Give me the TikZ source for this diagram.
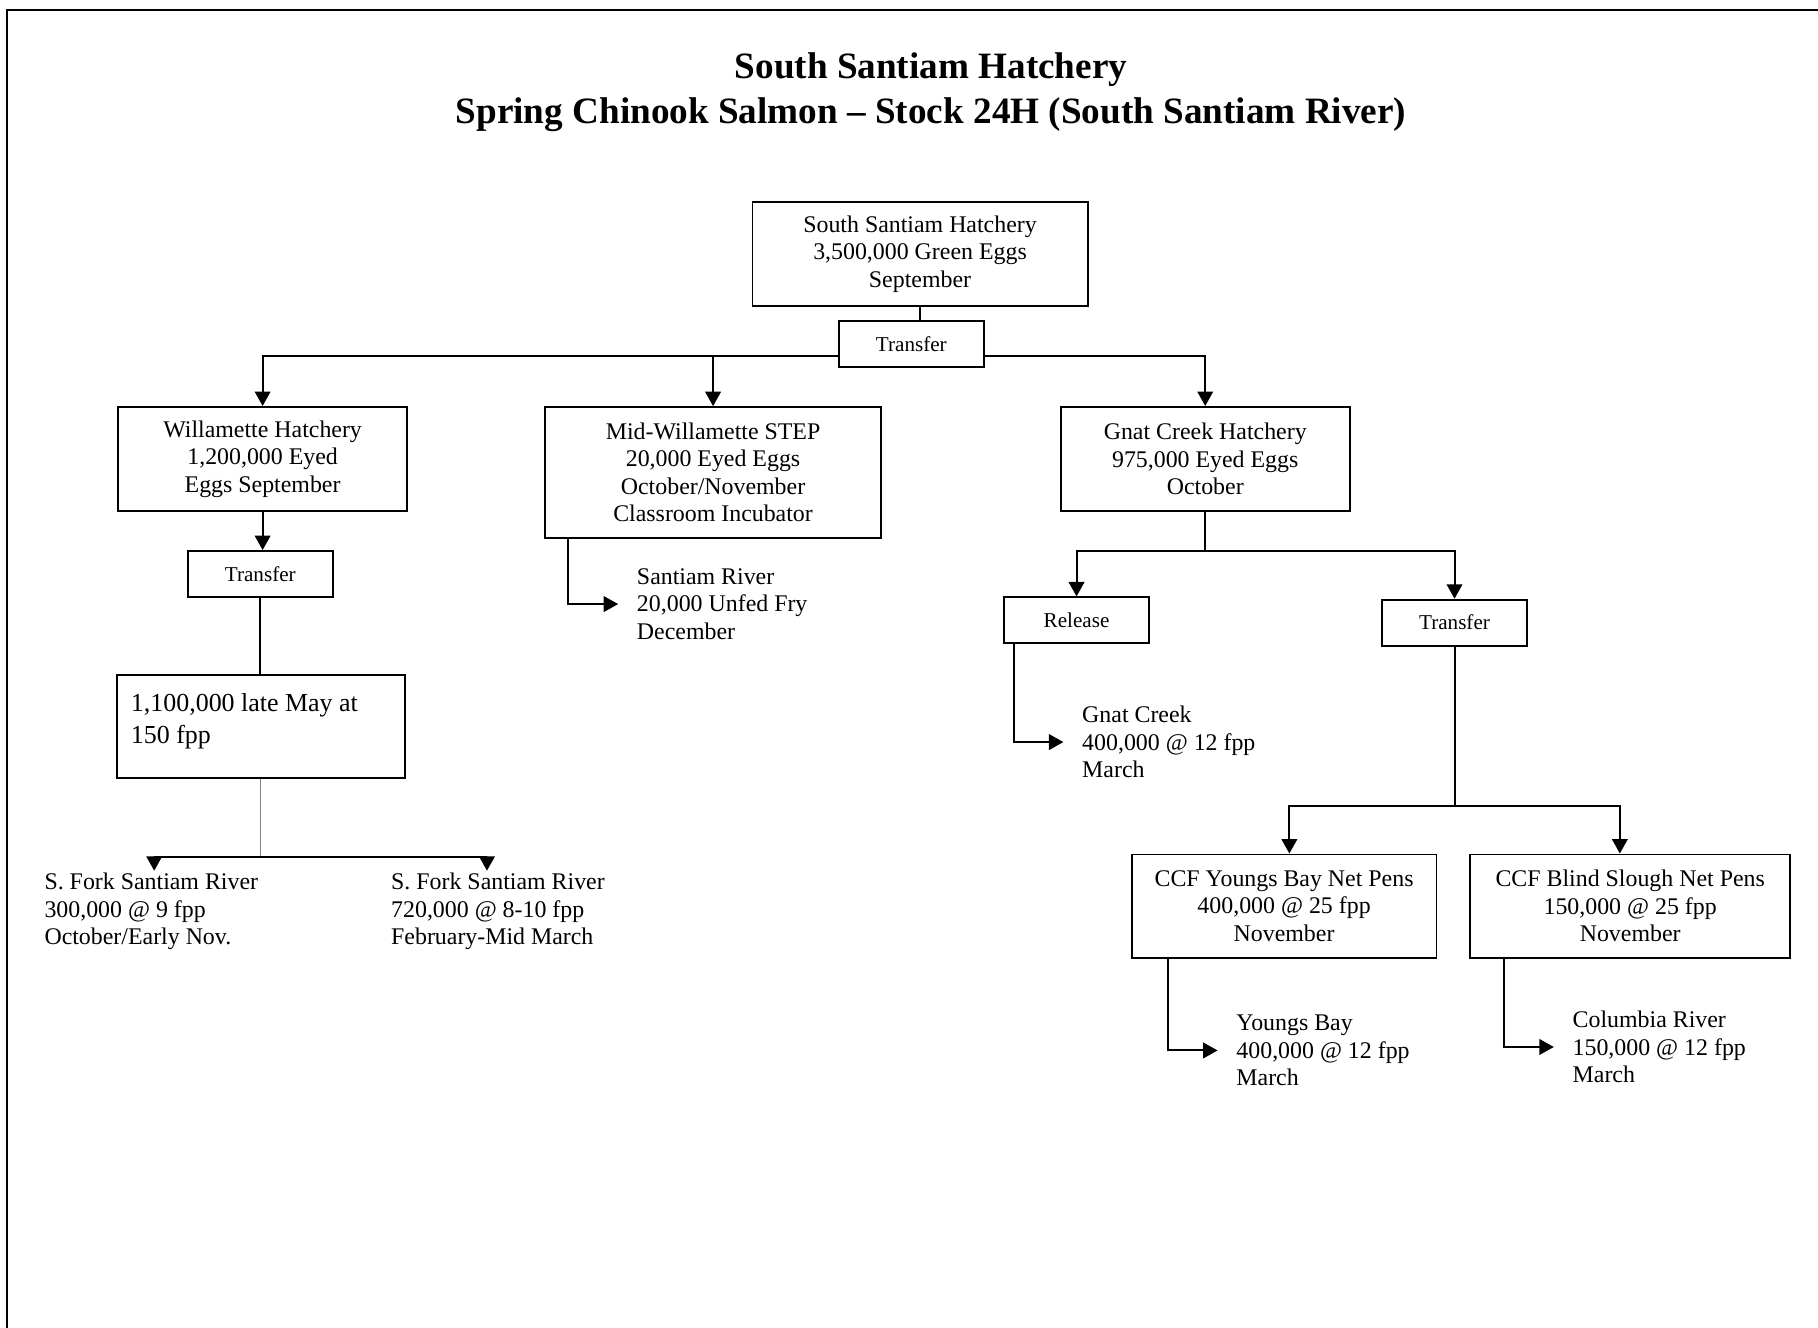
\documentclass[tikz,border=0pt]{standalone}
\usepackage{fontspec}
\setmainfont{Liberation Serif}
\usetikzlibrary{arrows.meta}

\newcommand{\bodyfont}{\fontsize{10.4}{12}\selectfont}
\newcommand{\smallfont}{\fontsize{9.2}{11}\selectfont}

\tikzset{
  box/.style={draw, line width=0.8pt, fill=white, align=center, inner sep=0pt, font=\bodyfont},
  tag/.style={box, minimum width=63pt, minimum height=20pt, font=\smallfont},
  rel/.style={anchor=west, align=left, inner sep=0pt, font=\bodyfont},
  link/.style={line width=0.85pt},
  arr/.style={link, -{Triangle[length=6.3pt,width=6.8pt]}},
  toText/.style={arr, shorten >=8pt},
}

\begin{document}
\begin{tikzpicture}[x=0.505pt, y=-0.505pt]
        \useasboundingbox (0,0) rectangle (1568,1145);
        % frame
        \draw[line width=1pt] (1568,8.6) -- (6.3,8.6) -- (6.3,1145);

        % title
        \node[align=center, font=\fontsize{16.2}{19.2}\selectfont\bfseries] (title) at (803,79.5) {South Santiam Hatchery\\Spring Chinook Salmon \textendash{} Stock 24H (South Santiam River)};

        % top
        \node[box, minimum width=146pt, minimum height=45.5pt] (hatch) at (793.5,219) {South Santiam Hatchery\\3,500,000 Green Eggs\\September};
        \node[tag] (xfer) at (786,297) {Transfer};
        \coordinate (split1) at (786,307);

        % row2
        \node[box, minimum width=125.8pt, minimum height=45.5pt] (will) at (226.5,396) {Willamette Hatchery\\1,200,000 Eyed\\Eggs September};
        \node[box, minimum width=146.5pt, minimum height=57pt] (step) at (615,407.5) {Mid-Willamette STEP\\20,000 Eyed Eggs\\October/November\\Classroom Incubator};
        \node[box, minimum width=125.8pt, minimum height=45.5pt] (gnat) at (1039.5,396) {Gnat Creek Hatchery\\975,000 Eyed Eggs\\October};

        \draw[link] (hatch.south) -- (hatch.south |- xfer.north);
        \draw[arr] (xfer.west |- split1) -| (will.north);
        \draw[arr] (xfer.east |- split1) -| (gnat.north);
        \draw[arr] (step.north |- split1) -- (step.north);

        % Willamette
        \node[tag] (xferW) at (224.5,495) {Transfer};
        \node[box] (smolt) at (225,626.5) {\parbox[c][45pt][t]{125.2pt}{\fontsize{11.3}{14.3}\selectfont\leftskip=6pt\vspace*{8pt}1,100,000 late May at\\150 fpp}};
        \coordinate (split2) at (224,739);
        \coordinate (forkA) at (133,751);
        \coordinate (forkB) at (420,751);

        \draw[arr] (will.south) -- (will.south |- xferW.north);
        \draw[link] (xferW.south) -- (xferW.south |- smolt.north);
        \draw[gray, line width=0.4pt] (smolt.south) -- (smolt.south |- split2);
        \draw[arr] (split2) -| (forkA);
        \draw[arr] (split2) -| (forkB);

        \node[rel] (forkAtxt) at (38,786) {S. Fork Santiam River\\300,000 @ 9 fpp\\October/Early Nov.};
        \node[rel] (forkBtxt) at (337,786) {S. Fork Santiam River\\720,000 @ 8-10 fpp\\February-Mid March};

        % STEP
        \node[rel] (santiam) at (549,521) {Santiam River\\20,000 Unfed Fry\\December};
        \draw[toText] ([xshift=10.6pt]step.south west) |- (santiam.west);

        % Gnat Creek
        \coordinate (split3) at (1039.5,475);
        \node[tag] (release) at (928.5,535) {Release};
        \node[tag] (xferG) at (1254.5,537) {Transfer};
        \draw[link] (gnat.south) -- (split3);
        \draw[arr] (split3) -| (release.north);
        \draw[arr] (split3) -| (xferG.north);

        \node[rel] (gnatRel) at (933,640) {Gnat Creek\\400,000 @ 12 fpp\\March};
        \draw[toText] ([xshift=4.5pt]release.south west) |- (gnatRel.west);

        % net pens
        \coordinate (split4) at (1254.5,695);
        \node[box, minimum width=132.8pt, minimum height=45pt] (ccfY) at (1107.5,781.5) {CCF Youngs Bay Net Pens\\400,000 @ 25 fpp\\November};
        \node[box, minimum width=139.4pt, minimum height=45pt] (ccfB) at (1406,781.5) {CCF Blind Slough Net Pens\\150,000 @ 25 fpp\\November};
        \draw[link] (xferG.south) -- (split4);
        \draw[arr] (split4) -| ([xshift=2.3pt]ccfY.north);
        \draw[arr] (split4) -| ([xshift=-4.5pt]ccfB.north);

        \node[rel] (youngs) at (1066,906) {Youngs Bay\\400,000 @ 12 fpp\\March};
        \node[rel] (columbia) at (1356,903) {Columbia River\\150,000 @ 12 fpp\\March};
        \draw[toText] ([xshift=16.2pt]ccfY.south west) |- (youngs.west);
        \draw[toText] ([xshift=15.2pt]ccfB.south west) |- (columbia.west);
    \end{tikzpicture}
\end{document}
